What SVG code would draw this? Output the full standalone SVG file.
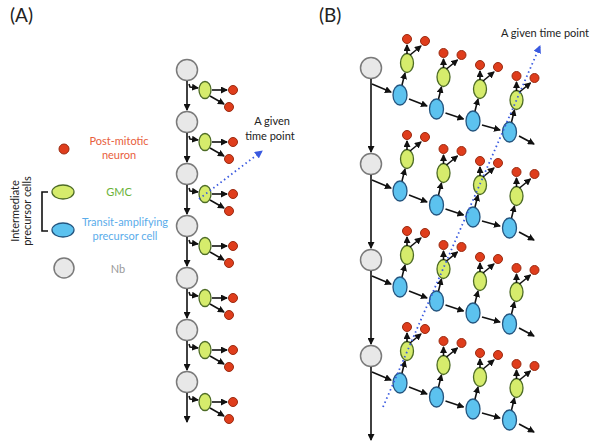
<svg xmlns="http://www.w3.org/2000/svg" width="600" height="444" viewBox="0 0 600 444">
<defs>
<marker id="ah" markerUnits="userSpaceOnUse" markerWidth="7" markerHeight="7" refX="6" refY="3.5" orient="auto"><path d="M0,0 L7,3.5 L0,7 z" fill="#111"/></marker>
<marker id="bh" markerUnits="userSpaceOnUse" markerWidth="8" markerHeight="8" refX="7" refY="4" orient="auto"><path d="M0,0 L8,4 L0,8 z" fill="#3a5ae0"/></marker>
</defs>
<style>
.nb{fill:#e8e8e8;stroke:#7a7a7a;stroke-width:1.5}
.gmc{fill:#d6ec6c;stroke:#4d6b26;stroke-width:1.3}
.tap{fill:#5cc2ef;stroke:#24557f;stroke-width:1.3}
.neu{fill:#df3d1c;stroke:#9a2a10;stroke-width:1}
.a{stroke:#111;stroke-width:1.6;fill:none;marker-end:url(#ah)}
.dot{stroke:#3a5ae0;stroke-width:1.8;stroke-dasharray:1.5,3;fill:none;marker-end:url(#bh)}
text{font-family:Lato,"Open Sans","Liberation Sans",sans-serif}
.lbl{font-size:19px;fill:#222}
.t{font-size:11px;text-anchor:middle}
</style>
<rect width="600" height="444" fill="#fff"/>
<text class="lbl" x="10" y="22">(A)</text>
<text class="lbl" x="319" y="22">(B)</text>

<g id="legend">
<circle class="neu" cx="64" cy="149" r="5"/>
<text class="t" x="119" y="145" fill="#e8603c">Post-mitotic</text>
<text class="t" x="119" y="159" fill="#e8603c">neuron</text>
<ellipse class="gmc" cx="63" cy="192" rx="11" ry="7"/>
<text class="t" x="119" y="196" fill="#6ab23a">GMC</text>
<ellipse class="tap" cx="63" cy="230" rx="11" ry="7"/>
<text class="t" x="125" y="226" fill="#5aacea">Transit-amplifying</text>
<text class="t" x="125" y="240" fill="#5aacea">precursor cell</text>
<circle class="nb" cx="64" cy="268" r="10"/>
<text class="t" x="118" y="273" fill="#999">Nb</text>
<path d="M48,192 L42,192 L42,231 L48,231" stroke="#111" stroke-width="1.6" fill="none"/>
<text class="t" transform="translate(19,211) rotate(-90)" fill="#222">Intermediate</text>
<text class="t" transform="translate(31,211) rotate(-90)" fill="#222">precursor cells</text>
</g>

<g id="panelA">
<g id="a-nb"><circle class="nb" cx="187" cy="70" r="10.5"/><circle class="nb" cx="187" cy="122" r="10.5"/><circle class="nb" cx="187" cy="174" r="10.5"/><circle class="nb" cx="187" cy="226" r="10.5"/><circle class="nb" cx="187" cy="278" r="10.5"/><circle class="nb" cx="187" cy="330" r="10.5"/><circle class="nb" cx="187" cy="382" r="10.5"/></g>
<g id="a-gmc"><ellipse class="gmc" cx="205" cy="90" rx="6" ry="8.5"/><ellipse class="gmc" cx="205" cy="142" rx="6" ry="8.5"/><ellipse class="gmc" cx="205" cy="194" rx="6" ry="8.5"/><ellipse class="gmc" cx="205" cy="246" rx="6" ry="8.5"/><ellipse class="gmc" cx="205" cy="298" rx="6" ry="8.5"/><ellipse class="gmc" cx="205" cy="350" rx="6" ry="8.5"/><ellipse class="gmc" cx="205" cy="402" rx="6" ry="8.5"/></g>
<g id="a-neu">
<circle class="neu" cx="233" cy="90" r="4.5"/><circle class="neu" cx="229" cy="107" r="4.5"/>
<circle class="neu" cx="233" cy="142" r="4.5"/><circle class="neu" cx="229" cy="159" r="4.5"/>
<circle class="neu" cx="233" cy="194" r="4.5"/><circle class="neu" cx="229" cy="211" r="4.5"/>
<circle class="neu" cx="233" cy="246" r="4.5"/><circle class="neu" cx="229" cy="263" r="4.5"/>
<circle class="neu" cx="233" cy="298" r="4.5"/><circle class="neu" cx="229" cy="315" r="4.5"/>
<circle class="neu" cx="233" cy="350" r="4.5"/><circle class="neu" cx="229" cy="367" r="4.5"/>
<circle class="neu" cx="233" cy="402" r="4.5"/><circle class="neu" cx="229" cy="419" r="4.5"/>
</g>
<text class="t" x="272" y="125" fill="#222">A given</text>
<text class="t" x="270" y="140" fill="#222">time point</text>
</g>

<g id="connectorsA">
<path class="a" d="M187,81 V110"/><path class="a" d="M187,133 V162"/><path class="a" d="M187,185 V214"/><path class="a" d="M187,237 V266"/><path class="a" d="M187,289 V318"/><path class="a" d="M187,341 V370"/><path class="a" d="M187,393 V422"/>
<path class="a" d="M189,84 L190,87 L198,88"/><path class="a" d="M189,136 L190,139 L198,140"/><path class="a" d="M189,188 L190,191 L198,192"/><path class="a" d="M189,240 L190,243 L198,244"/><path class="a" d="M189,292 L190,295 L198,296"/><path class="a" d="M189,344 L190,347 L198,348"/><path class="a" d="M189,396 L190,399 L198,400"/>
<path class="a" d="M212,90 H227"/><path class="a" d="M212,142 H227"/><path class="a" d="M212,194 H227"/><path class="a" d="M212,246 H227"/><path class="a" d="M212,298 H227"/><path class="a" d="M212,350 H227"/><path class="a" d="M212,402 H227"/>
<path class="a" d="M210,96 L224,104"/><path class="a" d="M210,148 L224,156"/><path class="a" d="M210,200 L224,208"/><path class="a" d="M210,252 L224,260"/><path class="a" d="M210,304 L224,312"/><path class="a" d="M210,356 L224,364"/><path class="a" d="M210,408 L224,416"/>
<path class="dot" d="M199,199 L262,151"/>
</g>

<g id="panelB">
<g id="b-nb"><circle class="nb" cx="371" cy="68" r="10.5"/><circle class="nb" cx="371" cy="164" r="10.5"/><circle class="nb" cx="371" cy="260" r="10.5"/><circle class="nb" cx="371" cy="356" r="10.5"/></g>
</g>

<g id="connectorsB">
<path class="a" d="M371,79 V152"/><path class="a" d="M371,175 V248"/><path class="a" d="M371,271 V344"/><path class="a" d="M371,367 V440"/>
</g>

<g id="blocks">
<g id="blk0" transform="translate(0,0)">
<ellipse class="tap" cx="400" cy="95" rx="7" ry="10"/><ellipse class="tap" cx="436.5" cy="109" rx="7" ry="10"/><ellipse class="tap" cx="473" cy="121" rx="7" ry="10"/><ellipse class="tap" cx="509.5" cy="132" rx="7" ry="10"/>
<ellipse class="gmc" cx="407" cy="63" rx="6.5" ry="9.5"/><ellipse class="gmc" cx="443.5" cy="77" rx="6.5" ry="9.5"/><ellipse class="gmc" cx="480" cy="89" rx="6.5" ry="9.5"/><ellipse class="gmc" cx="516.5" cy="100" rx="6.5" ry="9.5"/>
<circle class="neu" cx="407" cy="39" r="4.5"/><circle class="neu" cx="425" cy="41" r="4.5"/><circle class="neu" cx="443.5" cy="53" r="4.5"/><circle class="neu" cx="461.5" cy="55" r="4.5"/><circle class="neu" cx="480" cy="65" r="4.5"/><circle class="neu" cx="498" cy="67" r="4.5"/><circle class="neu" cx="516.5" cy="76" r="4.5"/><circle class="neu" cx="534.5" cy="78" r="4.5"/>
<path class="a" d="M372,84 L391,92"/><path class="a" d="M409,99 L427,106"/><path class="a" d="M445.5,113 L463.5,119"/><path class="a" d="M482,125 L500,130"/><path class="a" d="M519,136 L534,144"/>
<path class="a" d="M402,85 L405,73"/><path class="a" d="M438.5,99 L441.5,87"/><path class="a" d="M475,111 L478,99"/><path class="a" d="M511.5,122 L514.5,110"/>
<path class="a" d="M407,54 V45"/><path class="a" d="M443.5,68 V59"/><path class="a" d="M480,80 V71"/><path class="a" d="M516.5,91 V82"/>
<path class="a" d="M410,55 L421,46"/><path class="a" d="M446.5,69 L457.5,60"/><path class="a" d="M483,81 L494,72"/><path class="a" d="M519.5,92 L530.5,83"/>
</g>
<use href="#blk0" transform="translate(0,96)"/>
<use href="#blk0" transform="translate(0,192)"/>
<use href="#blk0" transform="translate(0,288)"/>
</g>
<g id="timepointB">
<path class="dot" d="M383,407 L540,46"/>
<text class="t" x="545" y="37" fill="#222">A given time point</text>
</g>
</svg>
